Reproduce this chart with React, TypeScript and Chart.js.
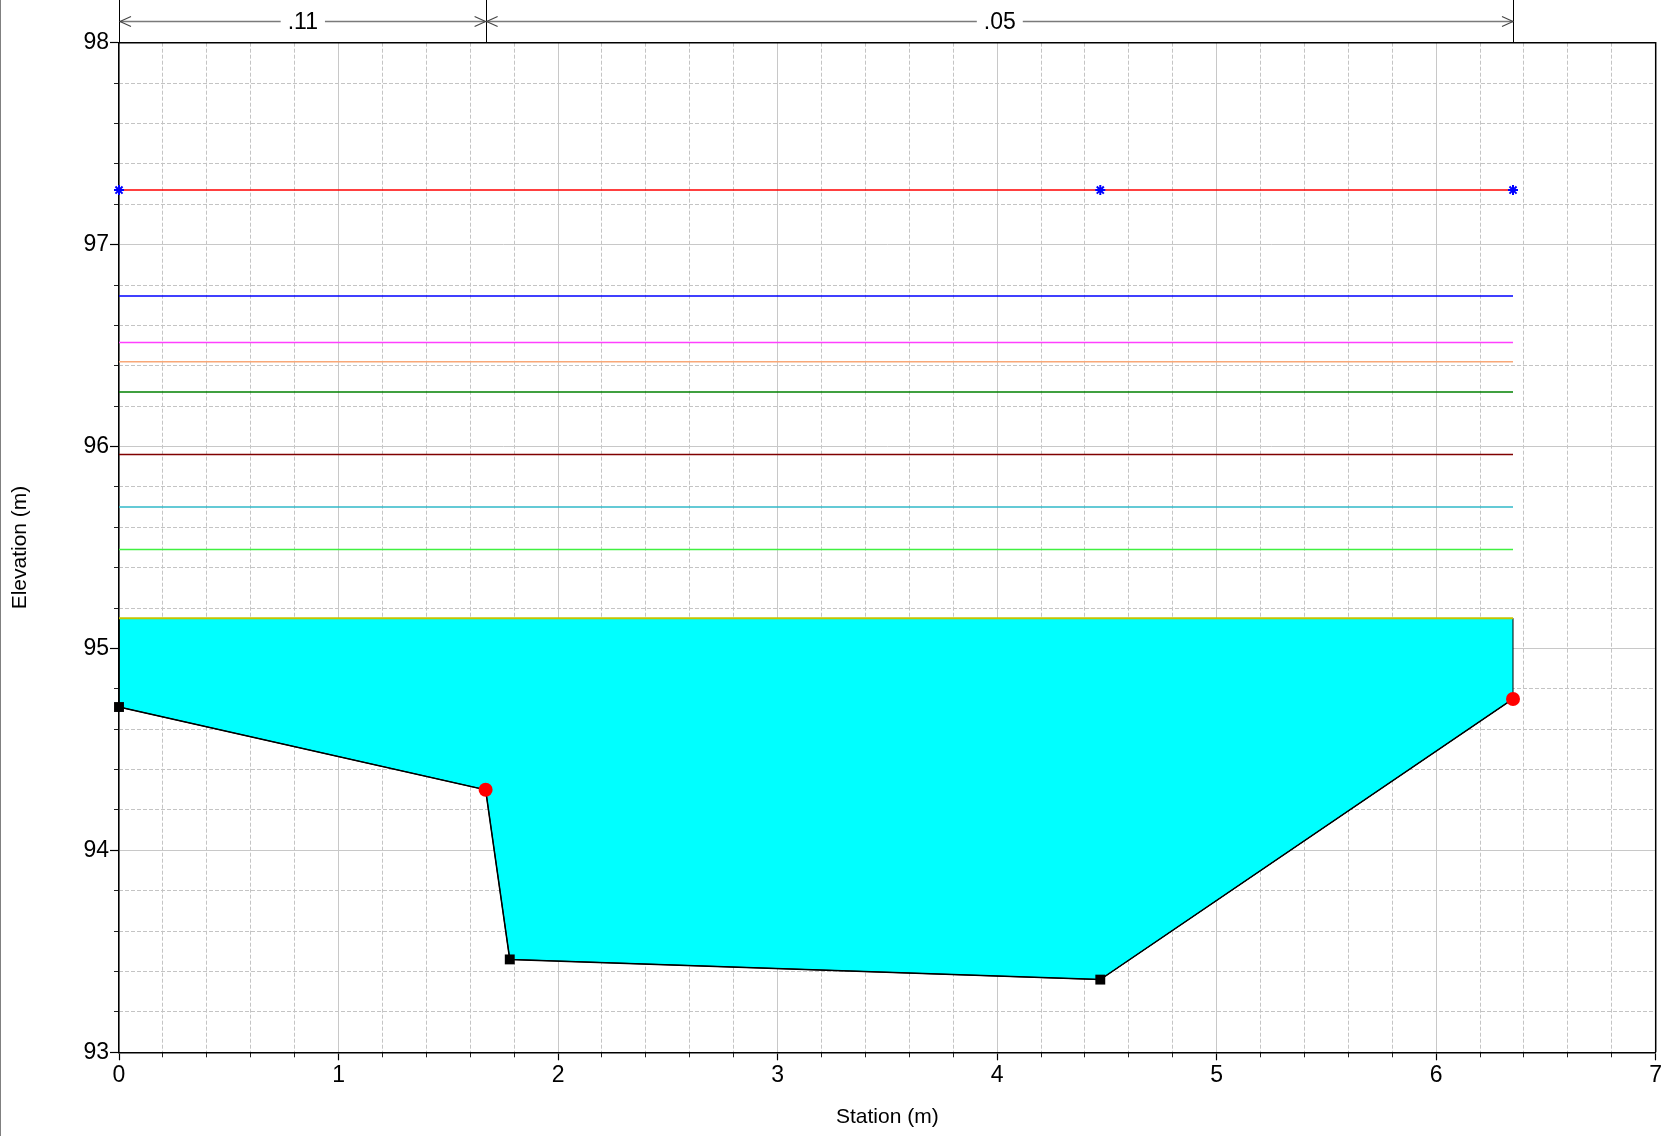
import React, { useEffect, useRef } from 'react';
import { Chart, registerables } from 'chart.js';

Chart.register(...registerables);

// ---- data ----
const GROUND_STATION = [0, 1.67, 1.78, 4.47, 6.35];
const GROUND_ELEV = [94.71, 94.3, 93.46, 93.36, 94.75];
const BANK_STATIONS = [1.67, 6.35];
const WS_ELEV = 95.15;
const PROFILE_ELEVS = [97.27, 96.745, 96.515, 96.42, 96.27, 95.96, 95.7, 95.49];
const PROFILE_COLORS = ['#ff0000', '#0000ff', '#ff40ff', '#f8a878', '#008000', '#800000', '#30b8c8', '#40f040'];
const STAR_STATIONS = [0, 4.47, 6.35];
const MANNING_STATIONS = [0, 1.67, 6.35];
const MANNING_N = ['.11', '.05'];
const X_MIN = 0, X_MAX = 7, X_MAJOR = 1, X_MINOR = 0.2;
const Y_MIN = 93, Y_MAX = 98, Y_MAJOR = 1, Y_MINOR = 0.2;
const X_TITLE = 'Station (m)';
const Y_TITLE = 'Elevation (m)';

const W = 1663, H = 1136;
const FONT = "'Liberation Sans', Arial, sans-serif";
const isInt = (v: any) => typeof v === 'number' && Math.abs(v - Math.round(v)) < 1e-6;

const frameAndDims = {
  id: 'frameAndDims',
  afterDraw(chart: any) {
    const { ctx, chartArea: ca, scales } = chart;
    const xs = scales.x;
    ctx.save();
    // top and right frame
    ctx.strokeStyle = '#000';
    ctx.lineWidth = 1.5;
    ctx.beginPath();
    ctx.moveTo(ca.left, ca.top);
    ctx.lineTo(ca.right, ca.top);
    ctx.lineTo(ca.right, ca.bottom);
    ctx.stroke();
    // vertical dimension lines
    ctx.lineWidth = 1;
    ctx.beginPath();
    for (const s of MANNING_STATIONS) {
      const px = Math.round(xs.getPixelForValue(s)) + 0.5;
      ctx.moveTo(px, 0);
      ctx.lineTo(px, ca.top);
    }
    ctx.stroke();
    // arrows with labels
    const ay = Math.round(ca.top - 21.7) + 0.5;
    ctx.font = `23px ${FONT}`;
    ctx.textAlign = 'center';
    ctx.textBaseline = 'middle';
    for (let i = 0; i < MANNING_N.length; i++) {
      const xa = xs.getPixelForValue(MANNING_STATIONS[i]) + 1;
      const xb = xs.getPixelForValue(MANNING_STATIONS[i + 1]);
      const mid = (xa + xb) / 2;
      const tw = ctx.measureText(MANNING_N[i]).width;
      const gap = tw / 2 + 7;
      ctx.strokeStyle = '#7a7a7a';
      ctx.lineWidth = 1.6;
      ctx.beginPath();
      ctx.moveTo(xa, ay);
      ctx.lineTo(mid - gap, ay);
      ctx.moveTo(mid + gap, ay);
      ctx.lineTo(xb, ay);
      ctx.stroke();
      ctx.strokeStyle = '#444';
      ctx.lineWidth = 1.1;
      ctx.beginPath();
      ctx.moveTo(xa + 11, ay - 5);
      ctx.lineTo(xa, ay);
      ctx.lineTo(xa + 11, ay + 5);
      ctx.moveTo(xb - 11, ay - 5);
      ctx.lineTo(xb, ay);
      ctx.lineTo(xb - 11, ay + 5);
      ctx.stroke();
      ctx.fillStyle = '#000';
      ctx.fillText(MANNING_N[i], mid, ay + 1);
    }
    ctx.restore();
  },
};

const zeroPad = (s: any) => {
  s.paddingLeft = 0;
  s.paddingRight = 0;
  s.paddingTop = 0;
  s.paddingBottom = 0;
};

export default function App() {
  const ref = useRef<HTMLCanvasElement>(null);

  useEffect(() => {
    const first = GROUND_STATION[0];
    const last = GROUND_STATION[GROUND_STATION.length - 1];
    const ground = GROUND_STATION.map((x, i) => ({ x, y: GROUND_ELEV[i] }));
    const isBank = (c: any) => {
      const p = c.raw;
      return p && BANK_STATIONS.some((b) => Math.abs(b - p.x) < 1e-9);
    };

    const datasets: any[] = [];
    // water fill
    datasets.push({
      data: [{ x: first, y: WS_ELEV }, ...ground, { x: last, y: WS_ELEV }],
      showLine: true,
      borderColor: '#000',
      borderWidth: 1,
      backgroundColor: '#00ffff',
      fill: { value: WS_ELEV },
      pointRadius: 0,
      order: 10,
      clip: false,
    });
    // water surface
    datasets.push({
      data: [{ x: first, y: WS_ELEV }, { x: last, y: WS_ELEV }],
      showLine: true,
      borderColor: '#c4c400',
      borderWidth: 2,
      pointRadius: 0,
      fill: false,
      order: 5,
      clip: false,
    });
    // profile lines
    PROFILE_ELEVS.forEach((e, i) => {
      if (i === 0) {
        datasets.push({
          data: STAR_STATIONS.map((x) => ({ x, y: e })),
          showLine: true,
          borderColor: PROFILE_COLORS[i],
          borderWidth: 1.5,
          pointStyle: 'star',
          pointRadius: 5,
          pointBorderColor: '#0000ff',
          pointBackgroundColor: '#0000ff',
          pointBorderWidth: 2,
          fill: false,
          order: 4,
          clip: false,
        });
      } else {
        datasets.push({
          data: [{ x: first, y: e }, { x: last, y: e }],
          showLine: true,
          borderColor: PROFILE_COLORS[i],
          borderWidth: 1.5,
          pointRadius: 0,
          fill: false,
          order: 6,
          clip: false,
        });
      }
    });
    // ground
    datasets.push({
      data: ground,
      showLine: true,
      borderColor: '#000',
      borderWidth: 1.5,
      fill: false,
      pointStyle: (c: any) => (isBank(c) ? 'circle' : 'rect'),
      pointRadius: (c: any) => (isBank(c) ? 7 : 7),
      pointBackgroundColor: (c: any) => (isBank(c) ? '#ff0000' : '#000'),
      pointBorderColor: (c: any) => (isBank(c) ? '#ff0000' : '#000'),
      pointBorderWidth: 0,
      order: 1,
      clip: false,
    });

    const tickFont = { family: FONT, size: 23 };
    const titleFont = { family: FONT, size: 21 };

    const chart = new Chart(ref.current!, {
      type: 'scatter',
      data: { datasets },
      plugins: [frameAndDims],
      options: {
        responsive: false,
        animation: false,
        devicePixelRatio: 1,
        layout: { padding: { top: 42.7, right: 7.3, left: 0, bottom: 0 } },
        plugins: { legend: { display: false }, tooltip: { enabled: false } },
        elements: { line: { tension: 0 } },
        scales: {
          x: {
            type: 'linear',
            position: 'bottom',
            weight: 1,
            min: X_MIN,
            max: X_MAX,
            ticks: {
              stepSize: X_MAJOR,
              autoSkip: false,
              maxRotation: 0,
              padding: 2,
              color: '#000',
              font: tickFont,
              callback: (v: any) => String(Math.round(Number(v))),
            },
            grid: { color: '#c8c8c8', lineWidth: 1, tickLength: 8, tickColor: '#000', tickWidth: 1.2 },
            border: { color: '#000', width: 1.5 },
            title: { display: true, text: X_TITLE, color: '#000', font: titleFont, padding: { top: 0, bottom: 6.4 } },
            afterFit: (s: any) => {
              s.height = H - 1052.3;
              zeroPad(s);
            },
          },
          xMinor: {
            type: 'linear',
            position: 'bottom',
            weight: 0,
            min: X_MIN,
            max: X_MAX,
            ticks: { stepSize: X_MINOR, autoSkip: false, display: false },
            grid: {
              color: (c: any) => (c.tick && isInt(c.tick.value) ? 'rgba(0,0,0,0)' : '#c4c4c4'),
              tickColor: (c: any) => (c.tick && isInt(c.tick.value) ? 'rgba(0,0,0,0)' : '#222'),
              lineWidth: 1,
              tickLength: 5,
              tickWidth: 1,
            },
            border: { display: false, dash: [4, 2] },
            afterFit: (s: any) => {
              s.height = 0;
              zeroPad(s);
            },
          },
          y: {
            type: 'linear',
            position: 'left',
            weight: 1,
            min: Y_MIN,
            max: Y_MAX,
            ticks: {
              stepSize: Y_MAJOR,
              autoSkip: false,
              padding: 1,
              color: '#000',
              font: tickFont,
              callback: (v: any) => String(Math.round(Number(v))),
            },
            grid: { color: '#c8c8c8', lineWidth: 1, tickLength: 9, tickColor: '#000', tickWidth: 1.2 },
            border: { color: '#000', width: 1.5 },
            title: { display: true, text: Y_TITLE, color: '#000', font: titleFont, padding: { top: 8, bottom: 0 } },
            afterFit: (s: any) => {
              s.width = 119;
              zeroPad(s);
            },
          },
          yMinor: {
            type: 'linear',
            position: 'left',
            weight: 0,
            min: Y_MIN,
            max: Y_MAX,
            ticks: { stepSize: Y_MINOR, autoSkip: false, display: false },
            grid: {
              color: (c: any) => (c.tick && isInt(c.tick.value) ? 'rgba(0,0,0,0)' : '#c4c4c4'),
              tickColor: (c: any) => (c.tick && isInt(c.tick.value) ? 'rgba(0,0,0,0)' : '#222'),
              lineWidth: 1,
              tickLength: 5,
              tickWidth: 1,
            },
            border: { display: false, dash: [4, 2] },
            afterFit: (s: any) => {
              s.width = 0;
              zeroPad(s);
            },
          },
        },
      } as any,
    });
    return () => chart.destroy();
  }, []);

  return (
    <div style={{ position: 'absolute', left: 0, top: 0, width: W, height: H, background: '#fff', overflow: 'hidden' }}>
      <canvas ref={ref} width={W} height={H} style={{ display: 'block', width: W, height: H }} />
      <div style={{ position: 'absolute', left: 0, top: 0, width: 1, height: H, background: '#808080' }} />
    </div>
  );
}
